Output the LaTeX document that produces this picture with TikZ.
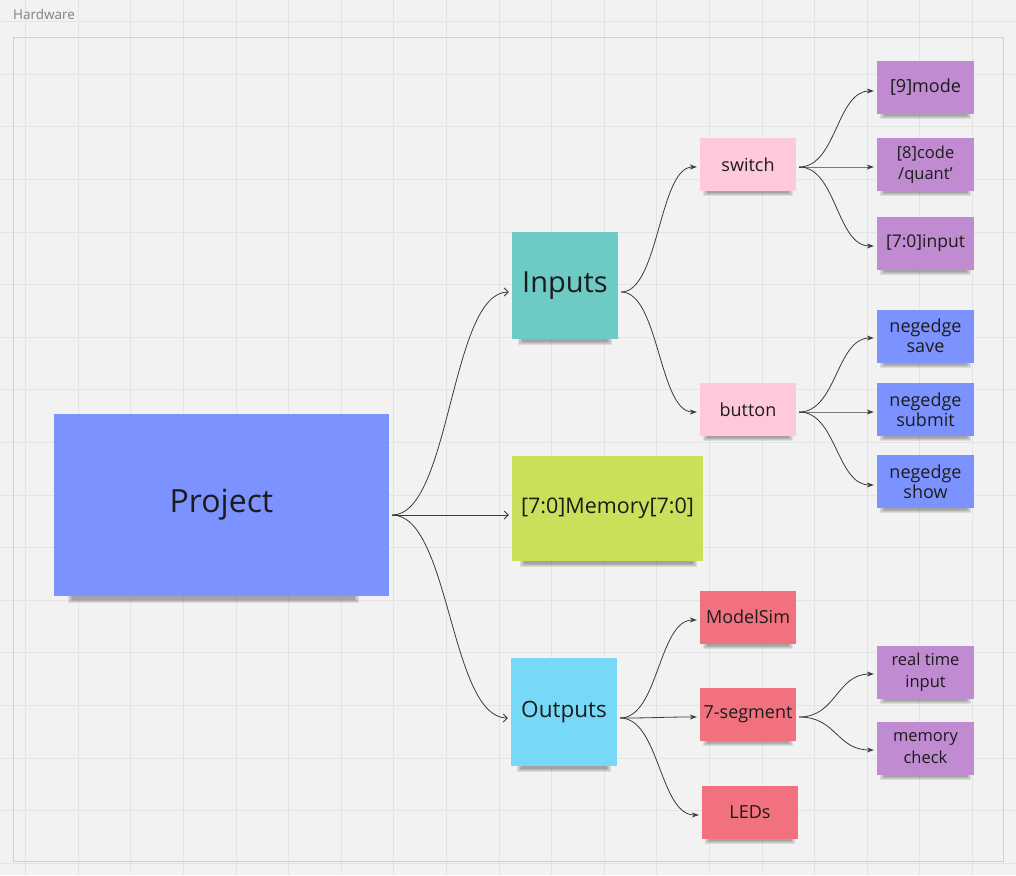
\documentclass[tikz,border=0pt]{standalone}
\usepackage{fontspec}
\setmainfont{Open Sans}
\usetikzlibrary{arrows.meta,calc}
\definecolor{bg}{HTML}{F2F2F2}
\definecolor{gridc}{HTML}{E4E4E4}
\definecolor{framec}{HTML}{D0D0D0}
\definecolor{txt}{HTML}{1C1C1C}
\definecolor{lnc}{HTML}{3A3A3A}
\definecolor{cblue}{HTML}{7B92FF}
\definecolor{cteal}{HTML}{6DCAC4}
\definecolor{cyel}{HTML}{CADF5A}
\definecolor{ccyan}{HTML}{76D9F8}
\definecolor{cpink}{HTML}{FFC9DD}
\definecolor{cred}{HTML}{F1717F}
\definecolor{cpurp}{HTML}{C08BD0}
\pgfdeclarelayer{gridlayer}
\pgfdeclarelayer{shadowlayer}
\pgfsetlayers{gridlayer,shadowlayer,main}
\newcommand\noteshadow[4]{% node, left inset, right inset, depth
  \foreach \i in {0,1,2,3} {
    \fill[black, opacity=0.09]
      ([xshift=#2pt+1.5*\i pt, yshift=2pt]#1.south west)
      rectangle ([xshift=-#3pt-1.5*\i pt, yshift=-#4pt+\i pt]#1.south east);
  }%
}
\tikzset{
  note/.style={rectangle, inner sep=2pt, align=center, text=txt},
  small/.style={note, minimum width=96pt, minimum height=53pt, font=\fontsize{18}{20}\selectfont},
  leaf/.style={note, minimum width=97pt, minimum height=53pt, font=\fontsize{18}{20}\selectfont},
  conn/.style={draw=lnc, line width=0.8pt, shorten <=3pt, shorten >=3pt,
    to path={let \p1=(\tikztostart), \p2=(\tikztotarget), \n1={0.5*(\x2-\x1)} in
      .. controls (\x1+\n1,\y1) and (\x2-\n1,\y2) .. (\tikztotarget) \tikztonodes}},
  openarr/.style={conn, -{Straight Barb[length=4pt,width=8pt]}},
  fillarr/.style={conn, -{Stealth[length=7pt,width=5pt]}},
}
\begin{document}
\begin{tikzpicture}[x=1pt,y=-1pt]
\begin{pgfonlayer}{gridlayer}
\useasboundingbox[fill=bg] (0,0) rectangle (1016,875);
\fill[black!5] (11,38) rectangle (1006,864);
\fill[bg] (13,37) rectangle (1003,861);
\foreach \k in {0,...,18} {
  \draw[gridc, line width=0.8pt] (25.5+52.6*\k,0) -- (25.5+52.6*\k,875);
}
\foreach \k in {0,...,16} {
  \draw[gridc, line width=0.8pt] (0,21.5+52.6*\k) -- (1016,21.5+52.6*\k);
}
\draw[framec, line width=0.8pt] (13,37) rectangle (1003,861);
\end{pgfonlayer}
\node[anchor=west, text=black!50, font=\fontsize{13.5}{16}\selectfont, inner sep=0pt] (title) at (13,14) {Hardware};

% main nodes
\node[note, fill=cblue, minimum width=335pt, minimum height=182pt, font=\fontsize{32}{38}\selectfont] (P) at (221.5,505) {Project};
\node[note, fill=cteal, minimum width=106pt, minimum height=107pt, font=\fontsize{29}{34}\selectfont] (I) at (565,285.5) {Inputs};
\node[note, fill=cyel, minimum width=191pt, minimum height=105pt, font=\fontsize{21.5}{26}\selectfont] (M) at (607.5,508.5) {[7:0]Memory[7:0]};
\node[note, fill=ccyan, minimum width=106pt, minimum height=108pt, font=\fontsize{22.5}{26}\selectfont] (O) at (564,712) {Outputs};

\node[small, fill=cpink] (sw) at (748,164.5) {switch};
\node[small, fill=cpink] (bt) at (748,409.5) {button};
\node[small, fill=cred] (ms) at (748,617) {ModelSim};
\node[small, fill=cred] (seg) at (748,714.5) {7-segment};
\node[small, fill=cred] (led) at (750,812.5) {LEDs};

\node[leaf, fill=cpurp] (mode) at (925.5,87) {[9]mode};
\node[leaf, fill=cpurp, font=\fontsize{16.5}{21.5}\selectfont] (code) at (925.5,164.5) {[8]code\\/quant'};
\node[leaf, fill=cpurp, font=\fontsize{17.5}{20}\selectfont] (inp) at (925.5,243.5) {[7:0]input};
\node[leaf, fill=cblue] (save) at (925.5,336) {negedge\\save};
\node[leaf, fill=cblue] (sub) at (925.5,409.5) {negedge\\submit};
\node[leaf, fill=cblue] (show) at (925.5,481.5) {negedge\\show};
\node[leaf, fill=cpurp, font=\fontsize{16.5}{22}\selectfont] (rt) at (925.5,672) {real time\\input};
\node[leaf, fill=cpurp, font=\fontsize{16.5}{22}\selectfont] (mc) at (925.5,748) {memory\\check};

\begin{pgfonlayer}{shadowlayer}
\noteshadow{P}{14}{30}{7}
\noteshadow{I}{6}{6}{6}
\noteshadow{M}{8}{6}{6}
\noteshadow{O}{6}{6}{6}
\foreach \n in {sw,bt,ms,seg,led,mode,code,inp,save,sub,show,rt,mc} {
  \noteshadow{\n}{3}{3}{5}
}
\end{pgfonlayer}

% connectors
\draw[openarr] ([yshift=-10pt]P.east) to ([yshift=-6.5pt]I.west);
\draw[openarr] ([yshift=-10pt]P.east) to ([yshift=-6.5pt]M.west);
\draw[openarr] ([yshift=-10pt]P.east) to ([yshift=-6pt]O.west);

\draw[fillarr] ([yshift=-6.5pt]I.east) to ([yshift=-2.5pt]sw.west);
\draw[fillarr] ([yshift=-6.5pt]I.east) to ([yshift=-2.5pt]bt.west);

\draw[fillarr] ([yshift=-2.5pt]sw.east) to ([yshift=-4pt]mode.west);
\draw[fillarr] ([yshift=-2.5pt]sw.east) to ([yshift=-2.5pt]code.west);
\draw[fillarr] ([yshift=-2.5pt]sw.east) to ([yshift=-2.5pt]inp.west);

\draw[fillarr] ([yshift=-2.5pt]bt.east) to ([yshift=-2pt]save.west);
\draw[fillarr] ([yshift=-2.5pt]bt.east) to ([yshift=-2.5pt]sub.west);
\draw[fillarr] ([yshift=-2.5pt]bt.east) to ([yshift=-3.5pt]show.west);

\draw[fillarr] ([yshift=-6pt]O.east) to ([yshift=-3pt]ms.west);
\draw[fillarr] ([yshift=-6pt]O.east) to ([yshift=-2.5pt]seg.west);
\draw[fillarr] ([yshift=-6pt]O.east) to ([yshift=-2.5pt]led.west);

\draw[fillarr] ([yshift=-2.5pt]seg.east) to ([yshift=-2pt]rt.west);
\draw[fillarr] ([yshift=-2.5pt]seg.east) to ([yshift=-2pt]mc.west);
\end{tikzpicture}
\end{document}
